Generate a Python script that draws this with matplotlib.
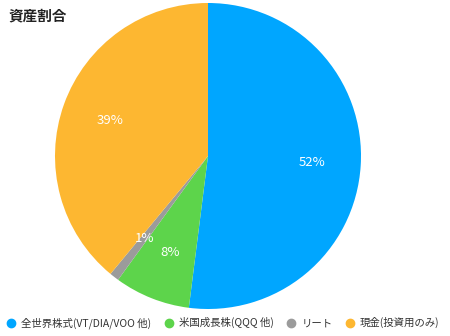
import matplotlib
matplotlib.use("Agg")
import matplotlib.pyplot as plt
from matplotlib.lines import Line2D

plt.rcParams['font.family'] = ['Noto Sans CJK JP', 'DejaVu Sans']

# data
labels = ['全世界株式(VT/DIA/VOO 他)', '米国成長株(QQQ 他)', 'リート', '現金(投資用のみ)']
values = [52, 8, 1, 39]
colors = ['#00A6FF', '#5DD44B', '#9B9B9B', '#FDB731']

fig = plt.figure(figsize=(4.5, 3.36), dpi=100)
ax = fig.add_axes([55 / 450, 27 / 336, 306 / 450, 306 / 336])

wedges, texts, autotexts = ax.pie(values, colors=colors, startangle=90,
                                  counterclock=False, autopct='%d%%',
                                  pctdistance=0.68,
                                  wedgeprops=dict(linewidth=0))
for t in autotexts:
    t.set_color('white')
    t.set_fontsize(9.5)
ax.set_xlim(-1, 1)
ax.set_ylim(-1, 1)
ax.set_aspect('equal')

fig.text(8 / 450, 1 - 15 / 336, '資産割合', fontsize=10.5, fontweight='bold',
         va='center', ha='left', color='#222222')

handles = [Line2D([], [], marker='o', linestyle='', markersize=6,
                  markerfacecolor=c, markeredgecolor=c) for c in colors]
fig.legend(handles, labels, loc='center left', bbox_to_anchor=(-0.01, 1 - 323 / 336),
           ncol=4, frameon=False, fontsize=7.5, handletextpad=0.35,
           columnspacing=1.1, handlelength=1.2, labelcolor='#333333')

fig.savefig('out.png', dpi=100)
